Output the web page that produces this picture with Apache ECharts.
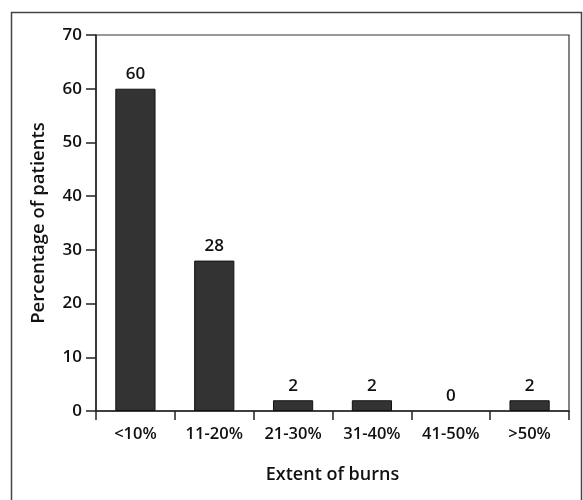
<!DOCTYPE html>
<html><head><meta charset="utf-8">
<script src="https://cdn.jsdelivr.net/npm/echarts@6/dist/echarts.min.js"></script>
<style>html,body{margin:0;padding:0;background:#fff}#c{width:583px;height:500px}</style>
</head><body><div id="c"></div>
<script>
const categories = ['<10%', '11-20%', '21-30%', '31-40%', '41-50%', '>50%'];
const percentages = [60, 28, 2, 2, 0, 2];
const yTicks = [0, 10, 20, 30, 40, 50, 60, 70];

const font = 'Open Sans';
const chart = echarts.init(document.getElementById('c'), null, {renderer: 'canvas'});
chart.setOption({
  animation: false,
  backgroundColor: '#fff',
  graphic: [{
    type: 'rect', left: 9, top: 10, shape: {width: 570, height: 492},
    style: {fill: 'none', stroke: '#444', lineWidth: 1.5}, silent: true
  }],
  grid: {left: 96, right: 14, top: 35, bottom: 89, show: true, borderColor: '#333', borderWidth: 1.2, backgroundColor: 'transparent'},
  xAxis: {
    type: 'category', data: categories,
    name: 'Extent of burns', nameLocation: 'middle', nameGap: 55,
    nameTextStyle: {fontFamily: font, fontSize: 18, fontWeight: 600, color: '#111'},
    axisLine: {lineStyle: {color: '#222', width: 1.5}},
    axisTick: {show: true, length: 9, lineStyle: {color: '#222', width: 1.5}},
    axisLabel: {fontFamily: font, fontSize: 16.5, fontWeight: 600, color: '#111', margin: 15}
  },
  yAxis: {
    type: 'value', min: yTicks[0], max: yTicks[yTicks.length - 1], interval: 10,
    name: 'Percentage of patients', nameLocation: 'middle', nameGap: 48,
    nameTextStyle: {fontFamily: font, fontSize: 18.5, fontWeight: 600, color: '#111'},
    axisLine: {show: true, lineStyle: {color: '#222', width: 1.5}},
    axisTick: {show: true, length: 10, lineStyle: {color: '#222', width: 1.5}},
    axisLabel: {fontFamily: font, fontSize: 17, fontWeight: 600, color: '#111', margin: 14},
    splitLine: {show: false}
  },
  series: [{
    type: 'bar',
    data: percentages.map(v => v === 0 ? {value: v, itemStyle: {borderWidth: 0}} : v),
    barWidth: '51%',
    itemStyle: {color: '#333', borderColor: '#111', borderWidth: 1},
    label: {show: true, position: 'top', distance: 6, fontFamily: font, fontSize: 17, fontWeight: 600, color: '#111'}
  }]
});
</script></body></html>
